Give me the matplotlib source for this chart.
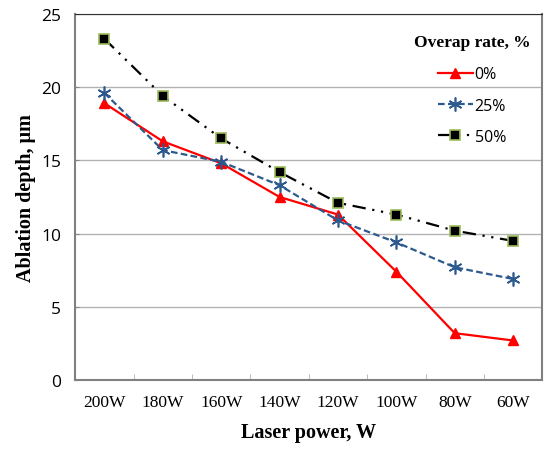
import matplotlib.pyplot as plt
import numpy as np

# laser power categories (x axis) and ablation depth per overlap rate
powers = ['200W', '180W', '160W', '140W', '120W', '100W', '80W', '60W']
depth_0 = [18.9, 16.3, 14.8, 12.5, 11.3, 7.4, 3.2, 2.7]
depth_25 = [19.6, 15.7, 14.9, 13.3, 10.9, 9.4, 7.7, 6.9]
depth_50 = [23.3, 19.4, 16.5, 14.2, 12.1, 11.3, 10.2, 9.5]
y_ticks = [0, 5, 10, 15, 20, 25]

fig = plt.figure(figsize=(5.45, 4.52), dpi=100)
ax = fig.add_axes([0.138, 0.157, 0.857, 0.810])

x = np.arange(len(powers))

ax.plot(x, depth_0, color='#ff0000', lw=1.6, marker='^', ms=7,
        mec='#ff0000', mfc='#ff0000', label='0%', zorder=3)
ax.plot(x, depth_25, color='#2c5a8e', lw=1.6, ls=(0, (3, 1.5)), marker=(6, 2, 0),
        ms=10, mew=1.2, mec='#2c5a8e', label='25%', zorder=3)
ax.plot(x, depth_50, color='black', lw=1.6, ls=(0, (6, 3, 1, 3, 1, 3)), marker='s',
        ms=7, mfc='black', mec='#9bbb59', mew=1.2, label='50%', zorder=3)

ax.set_xlim(-0.5, len(powers) - 0.5)
ax.set_ylim(0, 25)
ax.set_yticks(y_ticks)
ax.set_yticklabels([str(v) for v in y_ticks], family='Open Sans', fontsize=12.5)
ax.set_xticks(x)
ax.set_xticklabels(powers, family='Liberation Serif', fontsize=12.5)
ax.set_xticks(np.arange(len(powers) + 1) - 0.5, minor=True)
ax.tick_params(axis='x', which='major', length=0, pad=10)
ax.tick_params(axis='x', which='minor', direction='in', length=4, color='#b0b0b0')
ax.tick_params(axis='y', direction='in', length=3, color='#888888', pad=10)

ax.yaxis.grid(True, color='#b3b3b3', lw=1)
ax.set_axisbelow(True)
for s in ['left', 'bottom']:
    ax.spines[s].set_color('#808080')
    ax.spines[s].set_linewidth(1.5)
ax.spines['top'].set_color('#303030')
ax.spines['right'].set_color('#808080')
ax.spines['right'].set_linewidth(1.5)

ax.set_xlabel('Laser power, W', family='Liberation Serif', fontweight='bold',
              fontsize=14.5, labelpad=9)
ax.set_ylabel('Ablation depth, \u03bcm', family='Liberation Serif', fontweight='bold',
              fontsize=14.5, labelpad=4)

leg = ax.legend(loc='upper right', bbox_to_anchor=(1.005, 0.985), frameon=False,
                title='Overap rate, %', prop={'family': 'Open Sans', 'size': 11.5},
                handlelength=2.2, handletextpad=0.1, labelspacing=0.95)
leg.get_title().set_fontfamily('Liberation Serif')
leg.get_title().set_fontweight('bold')
leg.get_title().set_fontsize(12.5)
leg._legend_box.sep = 12

fig.savefig('out.png', dpi=100)
